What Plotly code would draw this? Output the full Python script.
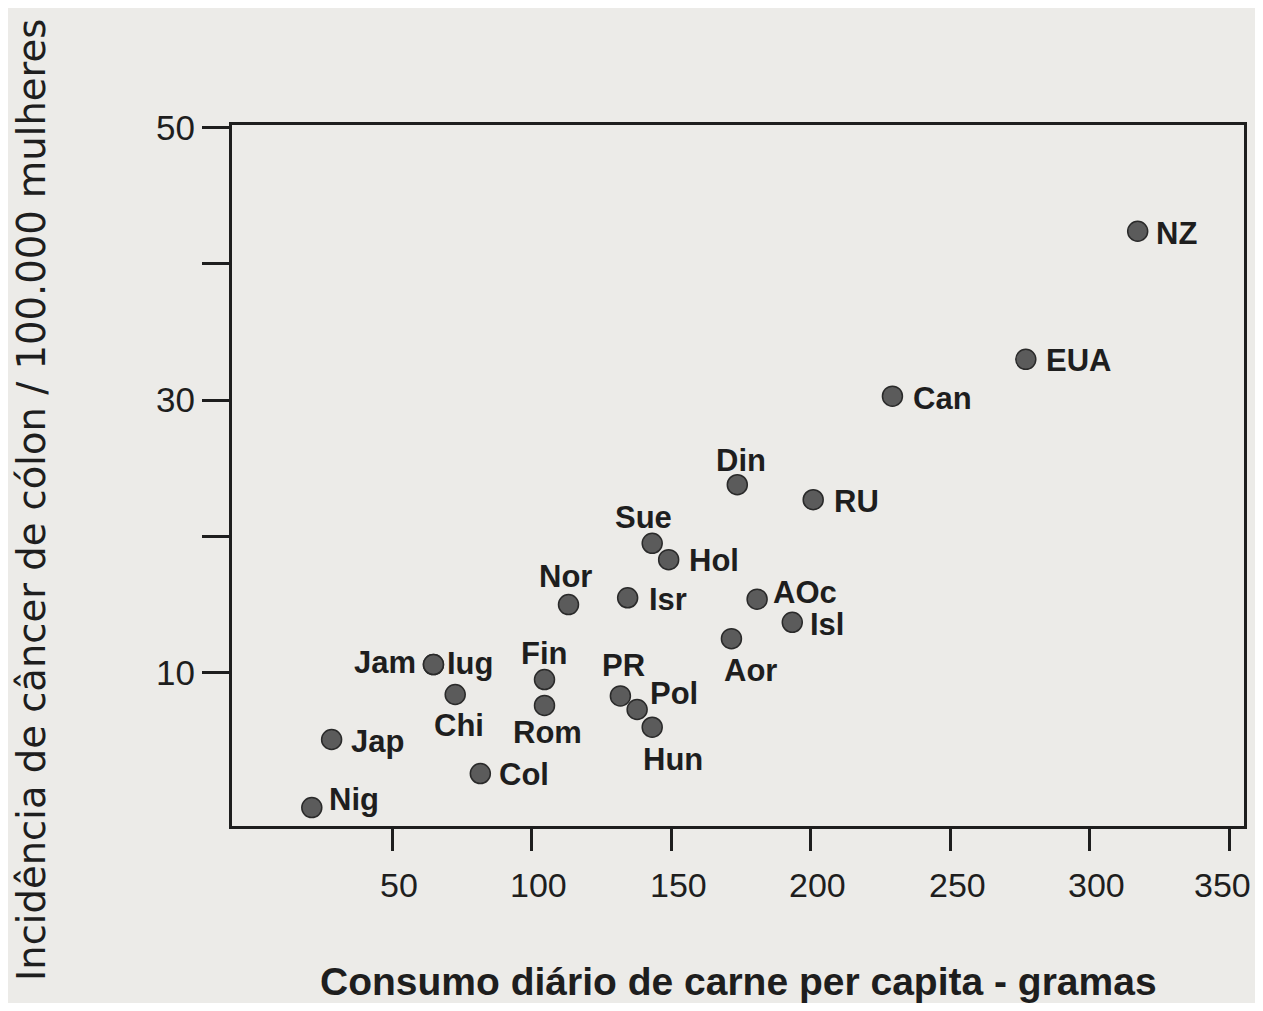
import plotly.graph_objects as go

# ---- data ----
paises = ["NZ", "EUA", "Can", "Din", "RU", "Sue", "Hol", "Nor", "Isr", "AOc",
          "Isl", "Aor", "Jam", "Iug", "Chi", "Fin", "Rom", "PR", "Pol", "Hun",
          "Jap", "Col", "Nig"]
consumo_carne = [317.2, 277.1, 229.3, 173.7, 200.9, 143.2, 149.1, 113.2, 134.4, 180.8,
                 193.4, 171.6, 64.8, 64.8, 72.6, 104.6, 104.6, 131.8, 137.8, 143.2,
                 28.3, 81.6, 21.2]
incidencia = [42.4, 33.0, 30.3, 23.8, 22.7, 19.5, 18.3, 15.0, 15.5, 15.4,
              13.7, 12.5, 10.6, 10.6, 8.4, 9.5, 7.6, 8.3, 7.3, 6.0,
              5.1, 2.6, 0.1]
x_ticks = [50, 100, 150, 200, 250, 300, 350]
x_ticktext = ["50", "100", "150", "200", "250", "300", "350"]
y_ticks = [10, 20, 30, 40, 50]
y_ticktext = ["10", "", "30", "", "50"]
x_title = "Consumo diário de carne per capita - gramas"
y_title = "Incidência de câncer de cólon / 100.000 mulheres"

# ---- label placement (style): anchor, pixel shift x, pixel shift y (down +) ----
label_style = {
    "NZ": ("left", 16, 2), "EUA": ("left", 18, 1), "Can": ("left", 19, 2),
    "Din": ("center", 4, -24), "RU": ("left", 19, 2), "Sue": ("center", -9, -26),
    "Hol": ("left", 18, 1), "Nor": ("center", -3, -28), "Isr": ("left", 19, 2),
    "AOc": ("left", 14, -7), "Isl": ("left", 16, 2), "Aor": ("center", 19, 32),
    "Jam": ("right", -15, -2), "Iug": ("left", 12, -1), "Chi": ("center", 4, 31),
    "Fin": ("center", 0, -26), "Rom": ("center", 3, 27), "PR": ("center", 3, -30),
    "Pol": ("left", 11, -16), "Hun": ("center", 21, 32), "Jap": ("left", 17, 2),
    "Col": ("left", 17, 1), "Nig": ("left", 15, -8),
}

FONT = "Liberation Sans, Arial, sans-serif"
INK = "#1e1e1e"
BG = "#ecebe8"

fig = go.Figure()
fig.add_trace(go.Scatter(
    x=consumo_carne, y=incidencia, mode="markers",
    marker=dict(size=20, color="#5b5b5b", line=dict(color="#2a2a2a", width=1.5)),
    cliponaxis=False, showlegend=False, hovertext=paises,
))

annotations = []
for p, xv, yv in zip(paises, consumo_carne, incidencia):
    anchor, dx, dy = label_style[p]
    annotations.append(dict(
        x=xv, y=yv, xref="x", yref="y", text=p, showarrow=False,
        xanchor=anchor, yanchor="middle", xshift=dx, yshift=-dy,
        font=dict(family=FONT, size=31, color=INK, weight="bold"),
    ))

# x tick labels (placed on the x axis scale; last one kept inside the page)
for i, (tv, tt) in enumerate(zip(x_ticks, x_ticktext)):
    last = i == len(x_ticks) - 1
    annotations.append(dict(
        x=tv, y=-0.0842, xref="x", yref="paper", text=tt, showarrow=False,
        xanchor="right" if last else "center", xshift=24 if last else 7,
        yanchor="middle", font=dict(family=FONT, size=34, color=INK),
    ))

annotations += [
    dict(text=x_title, xref="paper", yref="paper", x=0.5, y=-0.2225,
         xanchor="center", yanchor="middle", showarrow=False,
         font=dict(size=39, family=FONT, color=INK, weight="bold")),
    dict(text=y_title, xref="paper", yref="paper", x=-0.1986, y=0.465,
         xanchor="center", yanchor="middle", textangle=-90, showarrow=False,
         font=dict(size=38.5, family="DejaVu Sans, sans-serif", color=INK)),
]

fig.update_layout(
    width=1247, height=995,
    margin=dict(l=224, r=11, t=117, b=177),
    paper_bgcolor=BG, plot_bgcolor=BG,
    font=dict(family=FONT, color=INK),
    xaxis=dict(range=[-7.4, 355.3], tickvals=x_ticks, showticklabels=False,
               showgrid=False, zeroline=False, automargin=False,
               showline=True, mirror=True, linecolor=INK, linewidth=3,
               ticks="outside", ticklen=22, tickwidth=2.5, tickcolor=INK),
    yaxis=dict(range=[-1.25, 50.2], tickvals=y_ticks, ticktext=y_ticktext,
               showgrid=False, zeroline=False, automargin=False,
               showline=True, mirror=True, linecolor=INK, linewidth=3,
               ticks="outside", ticklen=27, tickwidth=2.5, tickcolor=INK,
               tickfont=dict(size=35, family=FONT, color=INK)),
    annotations=annotations,
)

fig.write_html("out.html")
